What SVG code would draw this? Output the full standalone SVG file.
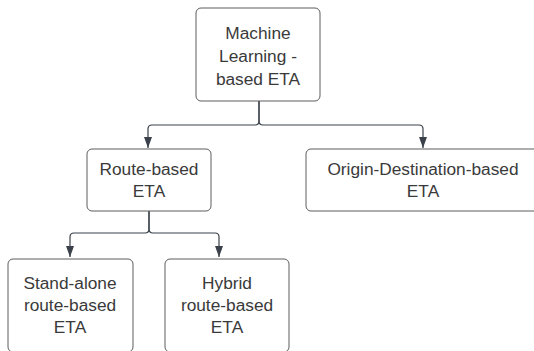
<svg xmlns="http://www.w3.org/2000/svg" width="534" height="351" viewBox="0 0 534 351">
<style>
.box{fill:#ffffff;stroke:#5c5c5c;stroke-width:1}
.lbl{font-family:"Liberation Sans",Arial,sans-serif;font-size:17.3px;fill:#3a3a3a;text-anchor:middle}
.conn{fill:none;stroke:#3a414a;stroke-width:1.2}
</style>
<defs>
<marker id="arr" viewBox="0 0 11 8" refX="11" refY="4" markerWidth="11" markerHeight="8" markerUnits="userSpaceOnUse" orient="auto">
<path d="M0,0 L11,4 L0,8 Z" fill="#3a414a"/>
</marker>
</defs>
<rect width="534" height="351" fill="#ffffff"/>
<g id="connectors">
<path class="conn" d="M259,101 V121 Q259,125 255,125 H152 Q148,125 148,129 V148" marker-end="url(#arr)"/>
<path class="conn" d="M259,101 V121 Q259,125 263,125 H419 Q423,125 423,129 V148" marker-end="url(#arr)"/>
<path class="conn" d="M149,211 V229 Q149,233 145,233 H74 Q70,233 70,237 V257" marker-end="url(#arr)"/>
<path class="conn" d="M149,211 V229 Q149,233 153,233 H215 Q219,233 219,237 V257" marker-end="url(#arr)"/>
</g>
<g id="ml">
<rect class="box" x="196" y="8" width="124" height="93" rx="5"/>
<text class="lbl" x="258" y="39">Machine</text>
<text class="lbl" x="258" y="62">Learning -</text>
<text class="lbl" x="258" y="85">based ETA</text>
</g>
<g id="route">
<rect class="box" x="87" y="149" width="124" height="62" rx="5"/>
<text class="lbl" x="149" y="175">Route-based</text>
<text class="lbl" x="149" y="197">ETA</text>
</g>
<g id="od">
<rect class="box" x="306" y="149" width="234" height="62" rx="5"/>
<text class="lbl" x="423" y="175">Origin-Destination-based</text>
<text class="lbl" x="423" y="197">ETA</text>
</g>
<g id="standalone">
<rect class="box" x="8" y="259" width="125" height="93" rx="5"/>
<text class="lbl" x="70" y="289">Stand-alone</text>
<text class="lbl" x="70" y="311">route-based</text>
<text class="lbl" x="70" y="333">ETA</text>
</g>
<g id="hybrid">
<rect class="box" x="165" y="259" width="124" height="93" rx="5"/>
<text class="lbl" x="227" y="289">Hybrid</text>
<text class="lbl" x="227" y="311">route-based</text>
<text class="lbl" x="227" y="333">ETA</text>
</g>
</svg>
